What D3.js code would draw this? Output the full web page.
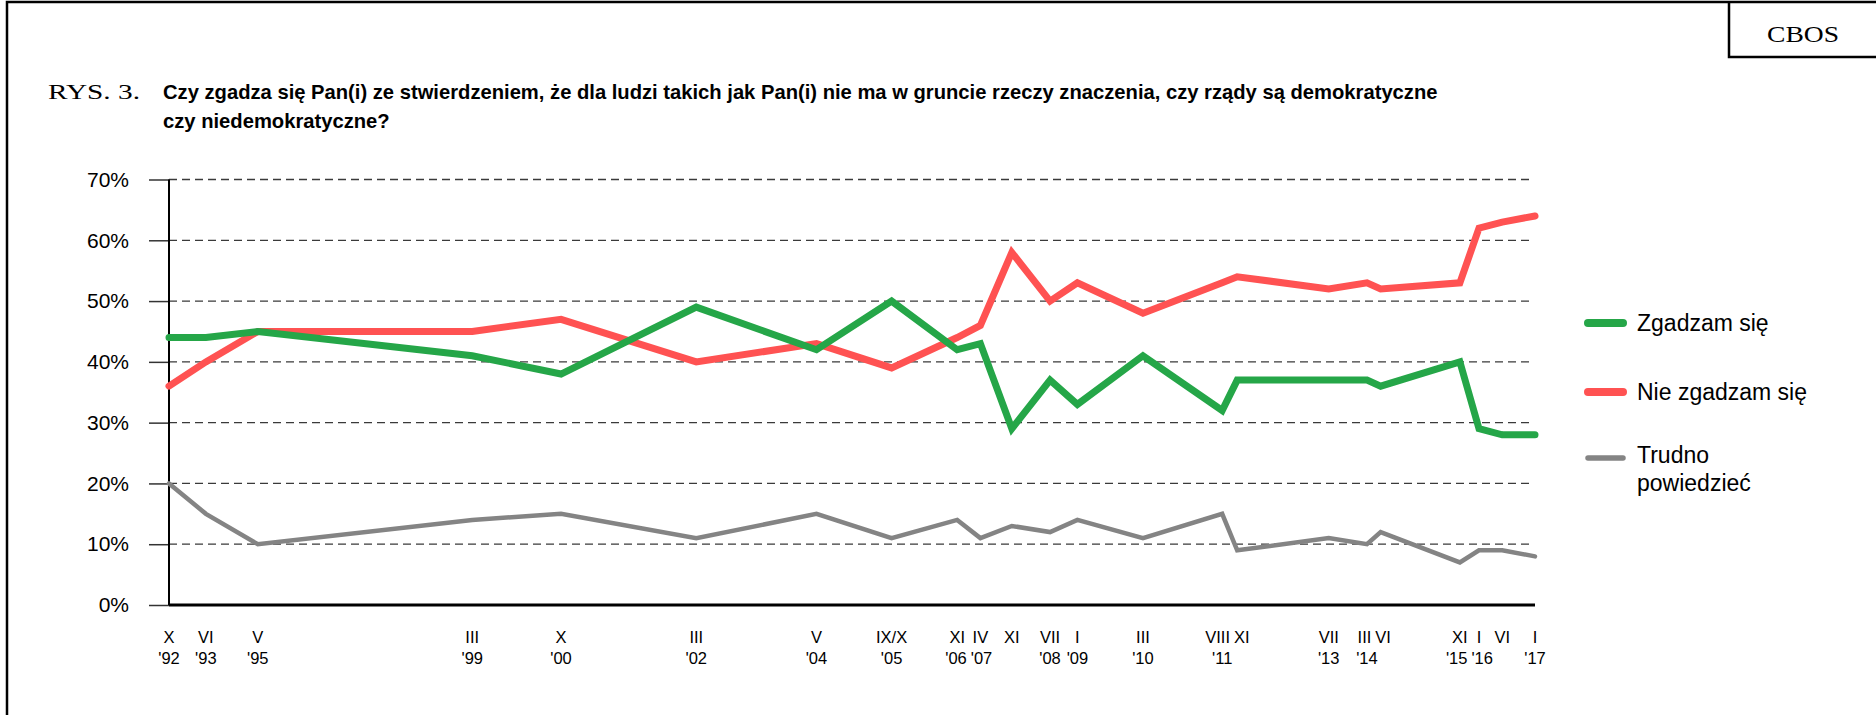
<!DOCTYPE html>
<html>
<head>
<meta charset="utf-8">
<script src="https://cdn.jsdelivr.net/npm/d3@7"></script>
<style>
  html, body { margin: 0; padding: 0; background: #fff; }
  svg { display: block; }
</style>
</head>
<body>
<svg id="chart" width="1876" height="715"></svg>
<script>
// ---- data ----
const months = ["X","VI","V","III","X","III","V","IX/X","XI","IV","XI","VII","I","III","VIII","XI","VII","III","VI","XI","I","VI","I"];
const years  = ["'92","'93","'95","'99","'00","'02","'04","'05","'06","'07","","'08","'09","'10","'11","","'13","'14","","'15","'16","","'17"];
// position of each survey along the category axis (0 = first, 100 = last)
const slots  = [0, 2.7, 6.5, 22.2, 28.7, 38.6, 47.4, 52.9, 57.7, 59.4, 61.7, 64.5, 66.5, 71.3, 77.1, 78.2, 84.9, 87.7, 88.7, 94.5, 95.9, 97.6, 100];
const zgadzam    = [44, 44, 45, 41, 38, 49, 42, 50, 42, 43, 29, 37, 33, 41, 32, 37, 37, 37, 36, 40, 29, 28, 28];
const nieZgadzam = [36, 40, 45, 45, 47, 40, 43, 39, 44, 46, 58, 50, 53, 48, 53, 54, 52, 53, 52, 53, 62, 63, 64];
const trudno     = [20, 15, 10, 14, 15, 11, 15, 11, 14, 11, 13, 12, 14, 11, 15,  9, 11, 10, 12,  7,  9,  9,  8];
const yTicks = [0, 10, 20, 30, 40, 50, 60, 70];
const seriesNames = ["Zgadzam się", "Nie zgadzam się", "Trudno powiedzieć"];

const SANS = "'Liberation Sans', Arial, sans-serif";
const SERIF = "'Liberation Serif', 'Times New Roman', serif";

const svg = d3.select("#chart");
svg.append("rect").attr("width", 1876).attr("height", 715).attr("fill", "#fff");

// outer frame
svg.append("path").attr("d", "M7,715 V2 H1876").attr("fill", "none").attr("stroke", "#000").attr("stroke-width", 2.5);
// CBOS box
svg.append("path").attr("d", "M1729,2 V57 H1876").attr("fill", "none").attr("stroke", "#000").attr("stroke-width", 2.5);
svg.append("text").attr("x", 1767).attr("y", 42)
  .attr("font-family", SERIF).attr("font-size", 24)
  .attr("textLength", 72).attr("lengthAdjust", "spacingAndGlyphs").text("CBOS");

// title
svg.append("text").attr("x", 48).attr("y", 99).attr("font-family", SERIF).attr("font-size", 21)
  .attr("textLength", 92).attr("lengthAdjust", "spacingAndGlyphs").text("RYS. 3.");
const title = svg.append("text").attr("font-family", SANS).attr("font-size", 20.2).attr("font-weight", "bold");
title.append("tspan").attr("x", 163).attr("y", 99)
  .text("Czy zgadza się Pan(i) ze stwierdzeniem, że dla ludzi takich jak Pan(i) nie ma w gruncie rzeczy znaczenia, czy rządy są demokratyczne");
title.append("tspan").attr("x", 163).attr("y", 128).text("czy niedemokratyczne?");

// scales
const x = d3.scaleLinear().domain([0, 100]).range([169, 1535]);
const y = d3.scaleLinear().domain([0, 70]).range([605, 179.5]);

// grid
svg.append("g").selectAll("line").data(yTicks.filter(d => d > 0)).join("line")
  .attr("x1", 169).attr("x2", 1530)
  .attr("y1", d => y(d)).attr("y2", d => y(d))
  .attr("stroke", "#3a3a3a").attr("stroke-width", 1.3).attr("stroke-dasharray", "8,5");

// y axis
const yAxis = svg.append("g").attr("transform", "translate(169,0)")
  .call(d3.axisLeft(y).tickValues(yTicks).tickSize(20).tickPadding(20).tickFormat(d => d + "%"));
yAxis.select(".domain").remove();
yAxis.selectAll(".tick line").attr("stroke", "#333").attr("stroke-width", 1.5);
yAxis.selectAll(".tick text").attr("font-family", SANS).attr("font-size", 21).attr("fill", "#000");
svg.append("line").attr("x1", 169).attr("x2", 169).attr("y1", y(70)).attr("y2", y(0))
  .attr("stroke", "#000").attr("stroke-width", 2);

// x axis
svg.append("line").attr("x1", x(0)).attr("x2", x(100)).attr("y1", y(0)).attr("y2", y(0))
  .attr("stroke", "#000").attr("stroke-width", 3);

// category labels: centred on their survey, nudged apart where they would collide
function labelRow(texts, baseY, cls) {
  const g = svg.append("g").attr("font-family", SANS).attr("font-size", 16.5).attr("text-anchor", "middle");
  const sel = g.selectAll("text").data(texts).join("text").attr("class", cls)
    .attr("x", (d, i) => x(slots[i])).attr("y", baseY).text(d => d);
  const nodes = sel.nodes();
  const items = texts.map((t, i) => ({ i, t, cx: x(slots[i]), w: nodes[i].getComputedTextLength() }))
    .filter(o => o.t !== "");
  const pad = 4;
  for (let iter = 0; iter < 30; iter++) {
    for (let k = 0; k < items.length - 1; k++) {
      const a = items[k], b = items[k + 1];
      const need = (a.w + b.w) / 2 + pad;
      const gap = b.cx - a.cx;
      if (gap < need) {
        const d = (need - gap) / 2;
        a.cx -= d; b.cx += d;
      }
    }
  }
  items.forEach(o => d3.select(nodes[o.i]).attr("x", o.cx));
}
labelRow(months, 643, "m");
labelRow(years, 664, "yr");

// lines
const colors = ["#25a648", "#ff5252", "#848484"];
const widths = [7, 7, 4.5];
const allSeries = [zgadzam, nieZgadzam, trudno];
const line = d3.line().x((d, i) => x(slots[i])).y(d => y(d));
[2, 1, 0].forEach(k => {
  svg.append("path").datum(allSeries[k]).attr("d", line)
    .attr("fill", "none").attr("stroke", colors[k]).attr("stroke-width", widths[k])
    .attr("stroke-linejoin", "miter").attr("stroke-linecap", "round");
});

// legend
const legY = [323, 392, 458];
const lg = svg.append("g");
seriesNames.forEach((name, k) => {
  lg.append("line").attr("x1", 1588).attr("x2", 1623).attr("y1", legY[k]).attr("y2", legY[k])
    .attr("stroke", colors[k]).attr("stroke-width", widths[k] + 1).attr("stroke-linecap", "round");
  const t = lg.append("text").attr("font-family", SANS).attr("font-size", 23).attr("fill", "#000");
  if (k < 2) {
    t.append("tspan").attr("x", 1637).attr("y", legY[k] + 8).text(name);
  } else {
    const parts = name.split(" ");
    t.append("tspan").attr("x", 1637).attr("y", legY[k] + 5).text(parts[0]);
    t.append("tspan").attr("x", 1637).attr("y", legY[k] + 33).text(parts[1]);
  }
});
</script>
</body>
</html>
